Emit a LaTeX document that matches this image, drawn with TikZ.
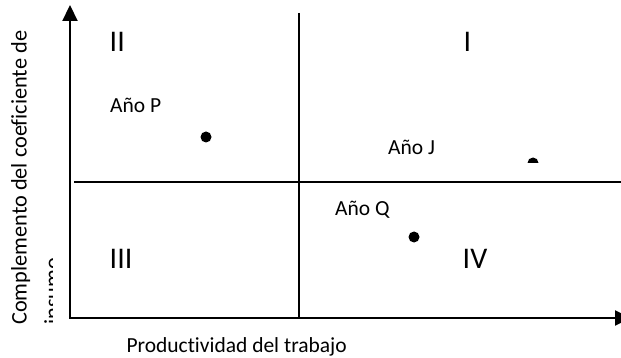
\documentclass[tikz,border=0pt]{standalone}
\usepackage{fontspec}
\setmainfont[Ligatures=NoCommon]{Carlito}
\usetikzlibrary{arrows.meta}

\begin{document}
\begin{tikzpicture}[x=1pt,y=-1pt,
  axis/.style={line width=2.2pt, {Triangle[width=15pt,length=16pt]}-{Triangle[width=15pt,length=16pt]}},
  divider/.style={line width=1.8pt},
  quadrant/.style={anchor=base west, inner sep=0pt, font=\fontsize{30}{36}\selectfont},
  yearlabel/.style={anchor=base west, inner sep=0pt, font=\fontsize{21.5}{27}\selectfont},
  yeardot/.style={circle, fill=black, inner sep=0pt, minimum size=11pt}]
  \useasboundingbox (0,0) rectangle (621,358);

  % Axes
  \coordinate (origin) at (70,318);
  \coordinate (ytip) at (70,5);
  \coordinate (xtip) at (631,318);
  \draw[axis] (ytip) -- (origin) -- (xtip);

  % Quadrant dividers
  \coordinate (vtop) at (299,13);
  \coordinate (vbot) at (299,318);
  \coordinate (hleft) at (74,182);
  \coordinate (hright) at (621,182);
  \draw[divider] (vtop) -- (vbot);
  \draw[divider] (hleft) -- (hright);

  % Quadrant numbers
  \node[quadrant] (qII) at (109.5,52) {II};
  \node[quadrant] (qI) at (463.5,52) {I};
  \node[quadrant] (qIII) at (109.5,269) {III};
  \node[quadrant] (qIV) at (462.5,269) {IV};

  % Years
  \node[yearlabel] (yearP) at (110,113) {Año P};
  \node[yeardot] (dotP) at (206,137) {};
  \node[yearlabel] (yearJ) at (388,155) {Año J};
  \begin{scope}
    \clip (520,150) rectangle (546,163);
    \node[yeardot] (dotJ) at (533,163) {};
  \end{scope}
  \node[yearlabel] (yearQ) at (335,215) {Año Q};
  \node[yeardot] (dotQ) at (414,237) {};

  % Axis labels
  \node[yearlabel] (xlabel) at (126.3,352) {Productividad del trabajo};
  \begin{scope}
    \clip (0,0) rectangle (52.5,358);
    \node[yearlabel, font=\fontsize{22.3}{27}\selectfont, anchor=north west, rotate=90, align=left] (ylabel) at (11,325)
      {Complemento del coeficiente de\\[6pt]insumo};
  \end{scope}
\end{tikzpicture}
\end{document}
